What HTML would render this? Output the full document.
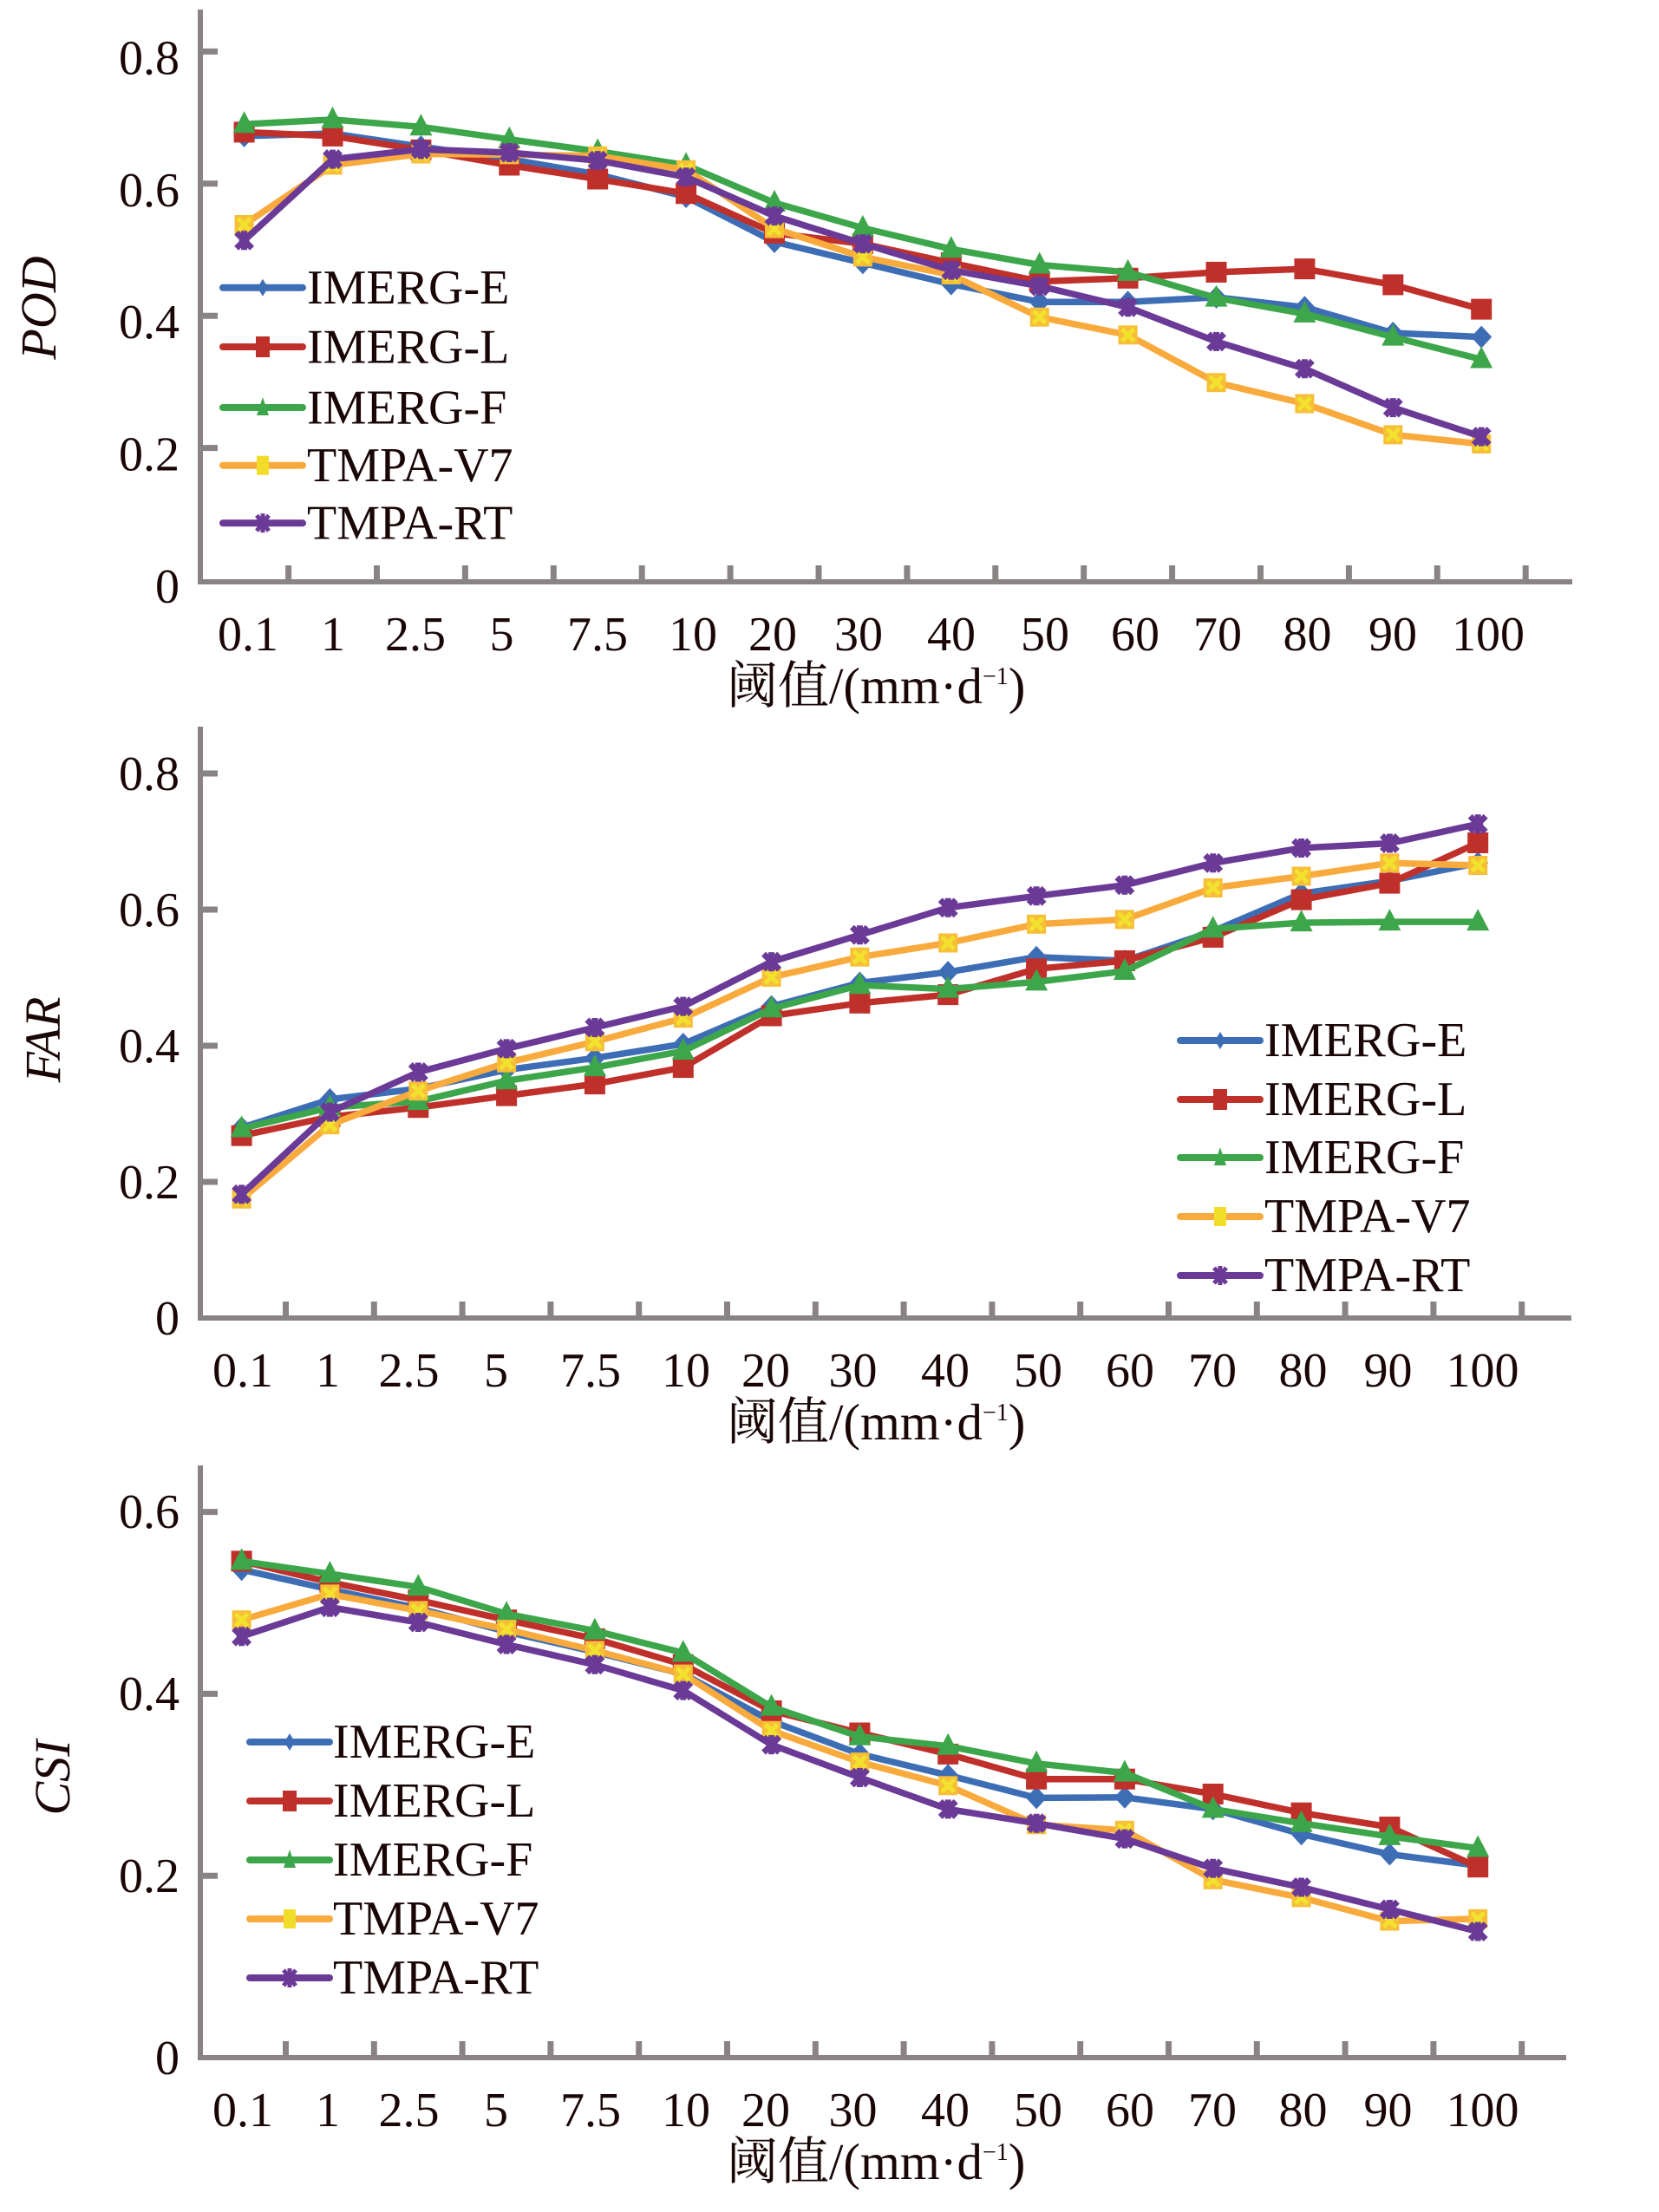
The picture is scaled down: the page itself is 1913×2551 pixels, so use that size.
<!DOCTYPE html>
<html><head><meta charset="utf-8"><style>
html,body{margin:0;padding:0;background:#fff;}
svg{display:block;}
.t{font-family:"Liberation Serif","Noto Serif CJK SC",serif;font-size:56px;fill:#1a0606;}
.ax{stroke:#8a8383;fill:none;}
.ln{fill:none;stroke-width:7.5;stroke-linejoin:round;stroke-linecap:round;}
</style></head><body>
<svg width="1913" height="2551" viewBox="0 0 1913 2551" xmlns="http://www.w3.org/2000/svg">
<defs>
<marker id="mE" markerUnits="userSpaceOnUse" markerWidth="40" markerHeight="40" refX="20" refY="20" viewBox="0 0 40 40" orient="0" overflow="visible"><polygon points="20,7 32,20 20,33 8,20" fill="#3d6db5"/></marker>
<marker id="mL" markerUnits="userSpaceOnUse" markerWidth="40" markerHeight="40" refX="20" refY="20" viewBox="0 0 40 40" orient="0" overflow="visible"><rect x="8" y="8" width="24" height="24" fill="#c0302b"/></marker>
<marker id="mF" markerUnits="userSpaceOnUse" markerWidth="40" markerHeight="40" refX="20" refY="20" viewBox="0 0 40 40" orient="0" overflow="visible"><polygon points="20,5 33,30 7,30" fill="#3da64b"/></marker>
<marker id="mV" markerUnits="userSpaceOnUse" markerWidth="40" markerHeight="40" refX="20" refY="20" viewBox="0 0 40 40" orient="0" overflow="visible"><rect x="9" y="9" width="22" height="22" fill="#f7be38"/><path d="M13,13L27,27M27,13L13,27" stroke="#f2e22e" stroke-width="5"/></marker>
<marker id="mR" markerUnits="userSpaceOnUse" markerWidth="40" markerHeight="40" refX="20" refY="20" viewBox="0 0 40 40" orient="0" overflow="visible"><path d="M11,11L29,29M29,11L11,29M20,9V31" stroke="#6b3a97" stroke-width="7"/><circle cx="20" cy="20" r="6" fill="#6b3a97"/></marker>
<polygon id="lE" points="0,-10 6,0 0,10 -6,0" fill="#3d6db5"/>
<rect id="lL" x="-8" y="-12" width="16" height="24" fill="#c0302b"/>
<polygon id="lF" points="0,-12 7,9 -7,9" fill="#3da64b"/>
<g id="lV"><rect x="-7" y="-11" width="14" height="22" fill="#f2dc2a"/></g>
<g id="lR"><path d="M-7,-9L7,9M7,-9L-7,9M0,-11V11" stroke="#6b3a97" stroke-width="5"/></g>
</defs>
<rect width="1913" height="2551" fill="#fff"/>

<!-- ================= POD ================= -->
<g class="ax">
<path d="M231,11V674" stroke-width="6"/>
<path d="M228,671H1813" stroke-width="6"/>
<path d="M231,59.4H251M231,211.8H251M231,364.2H251M231,516.6H251" stroke-width="7"/>
<path d="M332.6,652V671M434.5,652V671M536.4,652V671M638.3,652V671M740.2,652V671M842.1,652V671M944,652V671M1045.9,652V671M1147.8,652V671M1249.7,652V671M1351.6,652V671M1453.5,652V671M1555.4,652V671M1657.3,652V671M1759.2,652V671" stroke-width="7"/>
</g>
<g class="t" text-anchor="end">
<text x="207" y="695">0</text>
<text x="207" y="542.6">0.2</text>
<text x="207" y="390.2">0.4</text>
<text x="207" y="237.8">0.6</text>
<text x="207" y="85.4">0.8</text>
</g>
<g class="t" text-anchor="middle">
<text x="286" y="750">0.1</text><text x="384" y="750">1</text><text x="479" y="750">2.5</text><text x="578.5" y="750">5</text><text x="689" y="750">7.5</text><text x="799" y="750">10</text><text x="891" y="750">20</text><text x="990" y="750">30</text><text x="1097" y="750">40</text><text x="1205" y="750">50</text><text x="1309" y="750">60</text><text x="1404" y="750">70</text><text x="1507.5" y="750">80</text><text x="1606" y="750">90</text><text x="1716" y="750">100</text>
</g>
<text class="t" x="838" y="811" style="font-size:59px">阈值/(mm·d<tspan style="font-size:28px" dy="-22">−1</tspan><tspan dy="22">)</tspan></text>
<text class="t" style="font-size:58px;font-style:italic" text-anchor="middle" transform="translate(64,355) rotate(-90)">POD</text>

<polyline class="ln" stroke="#3d6db5" marker-start="url(#mE)" marker-mid="url(#mE)" marker-end="url(#mE)" points="281.6,156.9 383.5,153.9 485.4,169.1 587.3,183.6 689.2,201.1 791.1,227 893,278.9 994.9,303.2 1096.8,327.6 1198.7,348.2 1300.6,348.2 1402.5,342.9 1504.4,354.3 1606.3,384 1708.2,388.6"/>
<polyline class="ln" stroke="#c0302b" marker-start="url(#mL)" marker-mid="url(#mL)" marker-end="url(#mL)" points="281.6,152.4 383.5,156.9 485.4,172.9 587.3,190.5 689.2,206.5 791.1,223.2 893,268.9 994.9,281.1 1096.8,303.2 1198.7,324.6 1300.6,320.8 1402.5,313.9 1504.4,310.1 1606.3,328.4 1708.2,356.6"/>
<polyline class="ln" stroke="#3da64b" marker-start="url(#mF)" marker-mid="url(#mF)" marker-end="url(#mF)" points="281.6,143.2 383.5,137.9 485.4,146.3 587.3,160.7 689.2,174.5 791.1,190.5 893,233.9 994.9,262.9 1096.8,287.2 1198.7,305.5 1300.6,313.9 1402.5,343.6 1504.4,361.9 1606.3,388.6 1708.2,414.5"/>
<polyline class="ln" stroke="#f9aa3c" marker-start="url(#mV)" marker-mid="url(#mV)" marker-end="url(#mV)" points="281.6,259 383.5,190.5 485.4,177.5 587.3,178.3 689.2,179.8 791.1,195.8 893,263.6 994.9,296.4 1096.8,317 1198.7,365.7 1300.6,386.3 1402.5,441.2 1504.4,465.5 1606.3,501.4 1708.2,512"/>
<polyline class="ln" stroke="#6b3a97" marker-start="url(#mR)" marker-mid="url(#mR)" marker-end="url(#mR)" points="281.6,277.3 383.5,183.6 485.4,172.2 587.3,176 689.2,185.1 791.1,204.2 893,249.1 994.9,281.1 1096.8,311.6 1198.7,329.9 1300.6,354.3 1402.5,393.9 1504.4,425.2 1606.3,470.1 1708.2,503.6"/>

<g stroke-width="8" stroke-linecap="round">
<path d="M257,331.7H349" stroke="#3d6db5"/><path d="M257,400H349" stroke="#c0302b"/><path d="M257,470H349" stroke="#3da64b"/><path d="M257,536.7H349" stroke="#f9aa3c"/><path d="M257,603.3H349" stroke="#6b3a97"/>
</g>
<use href="#lE" x="303" y="331.7"/><use href="#lL" x="303" y="400"/><use href="#lF" x="303" y="470"/><use href="#lV" x="303" y="536.7"/><use href="#lR" x="303" y="603.3"/>
<g class="t">
<text x="354" y="350">IMERG-E</text><text x="354" y="418.3">IMERG-L</text><text x="354" y="488.3">IMERG-F</text><text x="354" y="555">TMPA-V7</text><text x="354" y="621.6">TMPA-RT</text>
</g>

<!-- ================= FAR ================= -->
<g class="ax">
<path d="M231,838V1523" stroke-width="6"/>
<path d="M228,1520H1812" stroke-width="6"/>
<path d="M231,892H251M231,1049H251M231,1206H251M231,1363H251" stroke-width="7"/>
<path d="M329.5,1501V1520M431.3,1501V1520M533.1,1501V1520M634.9,1501V1520M736.7,1501V1520M838.5,1501V1520M940.3,1501V1520M1042.1,1501V1520M1143.9,1501V1520M1245.7,1501V1520M1347.5,1501V1520M1449.3,1501V1520M1551.1,1501V1520M1652.9,1501V1520M1754.7,1501V1520" stroke-width="7"/>
</g>
<g class="t" text-anchor="end">
<text x="207" y="1539">0</text>
<text x="207" y="1382">0.2</text>
<text x="207" y="1225">0.4</text>
<text x="207" y="1068">0.6</text>
<text x="207" y="911">0.8</text>
</g>
<g class="t" text-anchor="middle">
<text x="280" y="1599">0.1</text><text x="378" y="1599">1</text><text x="471.5" y="1599">2.5</text><text x="572" y="1599">5</text><text x="681" y="1599">7.5</text><text x="791" y="1599">10</text><text x="883" y="1599">20</text><text x="983.5" y="1599">30</text><text x="1090" y="1599">40</text><text x="1197" y="1599">50</text><text x="1303" y="1599">60</text><text x="1398" y="1599">70</text><text x="1502.5" y="1599">80</text><text x="1600.5" y="1599">90</text><text x="1709.5" y="1599">100</text>
</g>
<text class="t" x="838" y="1660" style="font-size:59px">阈值/(mm·d<tspan style="font-size:28px" dy="-22">−1</tspan><tspan dy="22">)</tspan></text>
<text class="t" style="font-size:58px;font-style:italic" text-anchor="middle" transform="translate(69,1199) rotate(-90)">FAR</text>

<polyline class="ln" stroke="#3d6db5" marker-start="url(#mE)" marker-mid="url(#mE)" marker-end="url(#mE)" points="278.6,1300.5 380.4,1267.9 482.3,1255.5 584.1,1233.8 685.9,1220.2 787.8,1204 889.6,1160.6 991.4,1133.5 1093.2,1121.1 1195.1,1103.7 1296.9,1108 1398.7,1073.9 1500.6,1030.5 1602.4,1015.9 1704.2,995.3"/>
<polyline class="ln" stroke="#c0302b" marker-start="url(#mL)" marker-mid="url(#mL)" marker-end="url(#mL)" points="278.6,1309.7 380.4,1288 482.3,1277.2 584.1,1263.6 685.9,1250.1 787.8,1231.1 889.6,1171.5 991.4,1156.8 1093.2,1147.1 1195.1,1117.3 1296.9,1108 1398.7,1080.9 1500.6,1037.6 1602.4,1018.6 1704.2,972"/>
<polyline class="ln" stroke="#3da64b" marker-start="url(#mF)" marker-mid="url(#mF)" marker-end="url(#mF)" points="278.6,1301.5 380.4,1277.2 482.3,1270.1 584.1,1246.3 685.9,1231.1 787.8,1212.1 889.6,1163.3 991.4,1136.2 1093.2,1140.6 1195.1,1132.4 1296.9,1120 1398.7,1071.2 1500.6,1064.1 1602.4,1063.1 1704.2,1063.1"/>
<polyline class="ln" stroke="#f9aa3c" marker-start="url(#mV)" marker-mid="url(#mV)" marker-end="url(#mV)" points="278.6,1382.8 380.4,1297.2 482.3,1258.2 584.1,1225.7 685.9,1201.3 787.8,1174.2 889.6,1127 991.4,1103.7 1093.2,1087.5 1195.1,1065.8 1296.9,1060.4 1398.7,1024 1500.6,1010.5 1602.4,995.3 1704.2,998"/>
<polyline class="ln" stroke="#6b3a97" marker-start="url(#mR)" marker-mid="url(#mR)" marker-end="url(#mR)" points="278.6,1377.4 380.4,1282.6 482.3,1236.5 584.1,1209.4 685.9,1185 787.8,1160.6 889.6,1109.1 991.4,1078.2 1093.2,1046.8 1195.1,1033.3 1296.9,1020.8 1398.7,995.3 1500.6,978 1602.4,972.5 1704.2,950.3"/>

<g stroke-width="8" stroke-linecap="round">
<path d="M1361,1200H1453" stroke="#3d6db5"/><path d="M1361,1268H1453" stroke="#c0302b"/><path d="M1361,1335H1453" stroke="#3da64b"/><path d="M1361,1403H1453" stroke="#f9aa3c"/><path d="M1361,1471H1453" stroke="#6b3a97"/>
</g>
<use href="#lE" x="1407" y="1200"/><use href="#lL" x="1407" y="1268"/><use href="#lF" x="1407" y="1335"/><use href="#lV" x="1407" y="1403"/><use href="#lR" x="1407" y="1471"/>
<g class="t">
<text x="1458" y="1218">IMERG-E</text><text x="1458" y="1286">IMERG-L</text><text x="1458" y="1353">IMERG-F</text><text x="1458" y="1421">TMPA-V7</text><text x="1458" y="1489">TMPA-RT</text>
</g>

<!-- ================= CSI ================= -->
<g class="ax">
<path d="M231,1690V2376" stroke-width="6"/>
<path d="M228,2373H1806" stroke-width="6"/>
<path d="M231,1743.6H251M231,1953.4H251M231,2163.2H251" stroke-width="7"/>
<path d="M329.5,2354V2373M431.3,2354V2373M533.1,2354V2373M634.9,2354V2373M736.7,2354V2373M838.5,2354V2373M940.3,2354V2373M1042.1,2354V2373M1143.9,2354V2373M1245.7,2354V2373M1347.5,2354V2373M1449.3,2354V2373M1551.1,2354V2373M1652.9,2354V2373M1754.7,2354V2373" stroke-width="7"/>
</g>
<g class="t" text-anchor="end">
<text x="207" y="2392">0</text>
<text x="207" y="2182">0.2</text>
<text x="207" y="1972">0.4</text>
<text x="207" y="1762">0.6</text>
</g>
<g class="t" text-anchor="middle">
<text x="280" y="2452">0.1</text><text x="378" y="2452">1</text><text x="471.5" y="2452">2.5</text><text x="572" y="2452">5</text><text x="681" y="2452">7.5</text><text x="791" y="2452">10</text><text x="883" y="2452">20</text><text x="983.5" y="2452">30</text><text x="1090" y="2452">40</text><text x="1197" y="2452">50</text><text x="1303" y="2452">60</text><text x="1398" y="2452">70</text><text x="1502.5" y="2452">80</text><text x="1600.5" y="2452">90</text><text x="1709.5" y="2452">100</text>
</g>
<text class="t" x="838" y="2513" style="font-size:59px">阈值/(mm·d<tspan style="font-size:28px" dy="-22">−1</tspan><tspan dy="22">)</tspan></text>
<text class="t" style="font-size:58px;font-style:italic" text-anchor="middle" transform="translate(80,2050) rotate(-90)">CSI</text>

<polyline class="ln" stroke="#3d6db5" marker-start="url(#mE)" marker-mid="url(#mE)" marker-end="url(#mE)" points="278.6,1810.2 380.4,1833 482.3,1854.7 584.1,1881.8 685.9,1905.1 787.8,1930.6 889.6,1984.9 991.4,2022.9 1093.2,2047.3 1195.1,2073.4 1296.9,2072.8 1398.7,2086.4 1500.6,2115.2 1602.4,2138.5 1704.2,2151.5"/>
<polyline class="ln" stroke="#c0302b" marker-start="url(#mL)" marker-mid="url(#mL)" marker-end="url(#mL)" points="278.6,1800.4 380.4,1824.8 482.3,1845.4 584.1,1868.2 685.9,1889.9 787.8,1919.8 889.6,1973 991.4,1998.5 1093.2,2022.9 1195.1,2051.7 1296.9,2051.7 1398.7,2069 1500.6,2090.7 1602.4,2107 1704.2,2153.2"/>
<polyline class="ln" stroke="#3da64b" marker-start="url(#mF)" marker-mid="url(#mF)" marker-end="url(#mF)" points="278.6,1800.4 380.4,1815.1 482.3,1830.2 584.1,1861.2 685.9,1880.7 787.8,1906.2 889.6,1968.6 991.4,2002.8 1093.2,2013.7 1195.1,2033.8 1296.9,2044.6 1398.7,2086.4 1500.6,2102.7 1602.4,2117.9 1704.2,2131.5"/>
<polyline class="ln" stroke="#f9aa3c" marker-start="url(#mV)" marker-mid="url(#mV)" marker-end="url(#mV)" points="278.6,1868.2 380.4,1838.4 482.3,1857.4 584.1,1879.1 685.9,1903.5 787.8,1930.6 889.6,1995.8 991.4,2032.1 1093.2,2059.3 1195.1,2104.3 1296.9,2110.8 1398.7,2167.8 1500.6,2188.4 1602.4,2215.6 1704.2,2212.9"/>
<polyline class="ln" stroke="#6b3a97" marker-start="url(#mR)" marker-mid="url(#mR)" marker-end="url(#mR)" points="278.6,1887.2 380.4,1853.6 482.3,1871 584.1,1896.5 685.9,1919.8 787.8,1949.6 889.6,2012.1 991.4,2050 1093.2,2086.4 1195.1,2102.7 1296.9,2120.6 1398.7,2154.8 1500.6,2176.5 1602.4,2202 1704.2,2227.5"/>

<g stroke-width="8" stroke-linecap="round">
<path d="M288,2009H380" stroke="#3d6db5"/><path d="M288,2077H380" stroke="#c0302b"/><path d="M288,2145H380" stroke="#3da64b"/><path d="M288,2213H380" stroke="#f9aa3c"/><path d="M288,2281H380" stroke="#6b3a97"/>
</g>
<use href="#lE" x="334" y="2009"/><use href="#lL" x="334" y="2077"/><use href="#lF" x="334" y="2145"/><use href="#lV" x="334" y="2213"/><use href="#lR" x="334" y="2281"/>
<g class="t">
<text x="384" y="2027">IMERG-E</text><text x="384" y="2095">IMERG-L</text><text x="384" y="2163">IMERG-F</text><text x="384" y="2231">TMPA-V7</text><text x="384" y="2299">TMPA-RT</text>
</g>
</svg>
</body></html>
